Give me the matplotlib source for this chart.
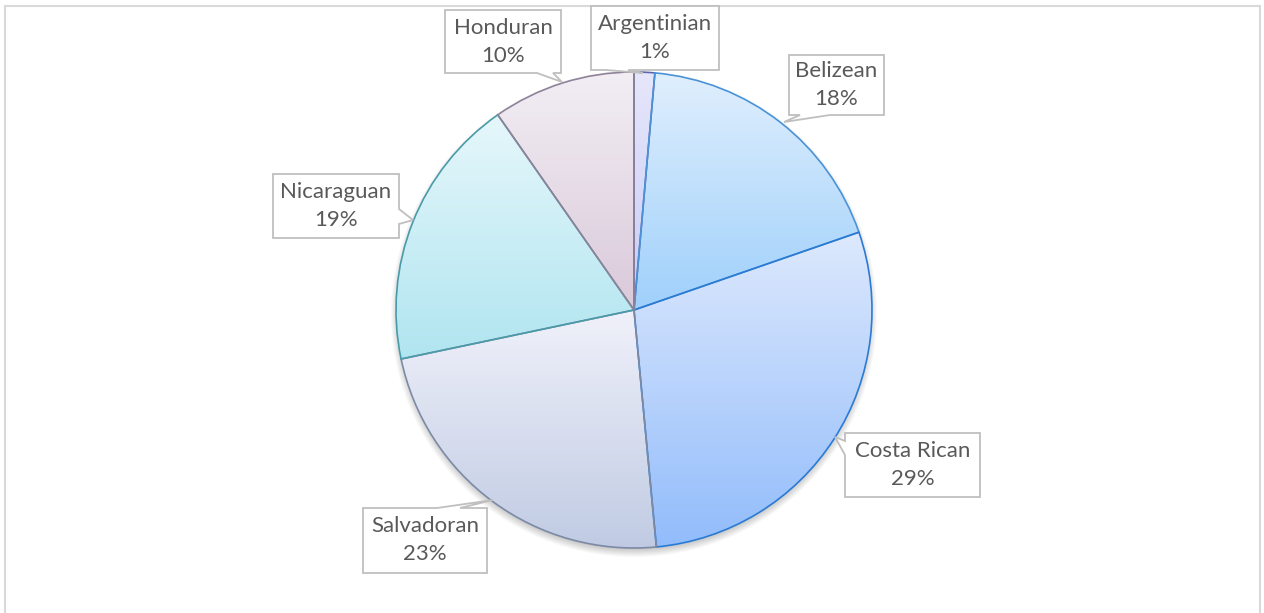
import numpy as np
import matplotlib
matplotlib.use("Agg")
import matplotlib.pyplot as plt
from matplotlib.patches import Polygon
from matplotlib.colors import to_rgb

# Share of respondents by nationality (percent)
categories = ["Argentinian", "Belizean", "Costa Rican", "Salvadoran", "Nicaraguan", "Honduran"]
shares = [1.4, 18.3, 28.8, 23.2, 18.6, 9.7]

# Per-slice vertical gradient (top -> bottom) and outline colours
top_colors = ["#e6e6fb", "#e0effd", "#dde9fd", "#f0f1fa", "#e6f7fb", "#f2eef4"]
bottom_colors = ["#c8cdf5", "#9fd0fb", "#92bcfb", "#c0cbe3", "#b0e5f0", "#dac9da"]
edge_colors = ["#5a64b0", "#4a93d6", "#2a7bd4", "#7c8aa6", "#4a9aa8", "#8e8299"]

# Callout layout in pixels: box (left, top, right, bottom), side, pointer base, pointer tip
callouts = {
    "Argentinian": ((591, 6, 719, 70), "bottom", (606, 628), (643, 73)),
    "Belizean": ((789, 55, 884, 115), "bottom", (800, 830), (784, 122)),
    "Costa Rican": ((845, 433, 980, 497), "left", (441, 455), (835, 437)),
    "Salvadoran": ((363, 508, 487, 573), "top", (437, 460), (493, 500)),
    "Nicaraguan": ((273, 174, 399, 238), "right", (209, 224), (413, 220)),
    "Honduran": ((445, 10, 561, 73), "bottom", (537, 553), (562, 82)),
}

W, H = 1264, 613
fig = plt.figure(figsize=(W / 100, H / 100), dpi=100)
ax = fig.add_axes([0, 0, 1, 1])

cx, cy, R = 634, H - 310, 238

wedges, _ = ax.pie(shares, center=(cx, cy), radius=R, startangle=90,
                   counterclock=False, frame=True)

# soft drop shadow under the pie
sx = np.arange(cx - R - 30, cx + R + 30)
sy = np.arange(cy - R - 30, cy + R + 30)
XX, YY = np.meshgrid(sx, sy)
d = np.hypot(XX - cx, YY - (cy - 4))
alpha = 0.30 * np.clip(1 - (d - (R - 6)) / 12.0, 0, 1)
shadow = np.zeros(XX.shape + (4,))
shadow[..., 3] = alpha
ax.imshow(shadow, extent=(sx[0], sx[-1], sy[0], sy[-1]), origin="lower",
          aspect="auto", interpolation="bilinear", zorder=1)

t = np.linspace(0, 1, 256)[:, None, None]
for w, c0, c1, ec in zip(wedges, top_colors, bottom_colors, edge_colors):
    th = np.radians(np.linspace(w.theta1, w.theta2, 300))
    xs = np.r_[cx, cx + R * np.cos(th)]
    ys = np.r_[cy, cy + R * np.sin(th)]
    a = np.array(to_rgb(c0))[None, None, :]
    b = np.array(to_rgb(c1))[None, None, :]
    grad = a * (1 - t) + b * t
    im = ax.imshow(grad, extent=(xs.min(), xs.max(), ys.min(), ys.max()),
                   origin="upper", aspect="auto", interpolation="bilinear", zorder=2)
    im.set_clip_path(w)
    w.set_facecolor("none")
    w.set_edgecolor(ec)
    w.set_linewidth(1.2)
    w.set_zorder(3)


def bubble(box, side, base, tip):
    l, tp, r, bt = box
    b0, b1 = min(base), max(base)
    pts = [(l, tp)]
    if side == "top":
        pts += [(b0, tp), tip, (b1, tp)]
    pts += [(r, tp)]
    if side == "right":
        pts += [(r, b0), tip, (r, b1)]
    pts += [(r, bt)]
    if side == "bottom":
        pts += [(b1, bt), tip, (b0, bt)]
    pts += [(l, bt)]
    if side == "left":
        pts += [(l, b1), tip, (l, b0)]
    return [(x, H - y) for x, y in pts]


total = sum(shares)
for name, val in zip(categories, shares):
    box, side, base, tip = callouts[name]
    poly = Polygon(bubble(box, side, base, tip), closed=True, facecolor="white",
                   edgecolor="#bfbfbf", linewidth=1.3, zorder=5)
    ax.add_patch(poly)
    mx = (box[0] + box[2]) / 2
    my = H - (box[1] + box[3]) / 2
    ax.text(mx, my + 14, name, ha="center", va="center", fontsize=16,
            family="Lato", color="#595959", zorder=6)
    ax.text(mx, my - 14, f"{round(val / total * 100)}%", ha="center", va="center",
            fontsize=16, family="Lato", color="#595959", zorder=6)

# chart area border
ax.plot([4.5, 4.5, 1259.5, 1259.5], [-5, H - 5.5, H - 5.5, -5],
        color="#d9d9d9", linewidth=1.5, zorder=0, solid_joinstyle="miter")

ax.set_xlim(0, W)
ax.set_ylim(0, H)
ax.set_axis_off()
fig.savefig("out.png", dpi=100, facecolor="white")
